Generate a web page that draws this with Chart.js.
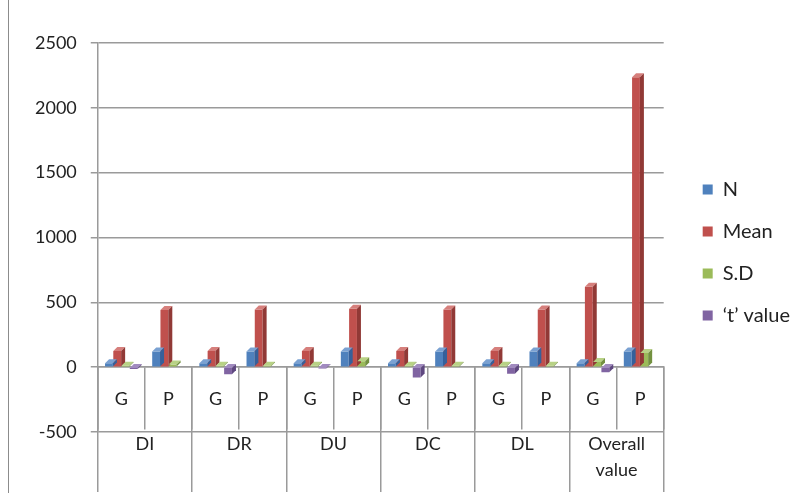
<!DOCTYPE html>
<html>
<head>
<meta charset="utf-8">
<script src="https://cdn.jsdelivr.net/npm/chart.js@4.4.0/dist/chart.umd.min.js"></script>
<style>
  html, body { margin: 0; padding: 0; background: #fff; }
  #marco { position: absolute; left: 8px; top: 0; width: 802px; height: 493px; border-left: 1.5px solid #8c8c8c; }
  #contenedor { position: absolute; left: 0; top: 0; width: 810px; height: 493px; }
</style>
</head>
<body>
<div id="marco"></div>
<div id="contenedor"><canvas id="barChartDimensiones" width="810" height="493"></canvas></div>
<script>
// categorias del eje x (dos niveles)
var grupos = ["G", "P", "G", "P", "G", "P", "G", "P", "G", "P", "G", "P"];
var dimensiones = ["DI", "DR", "DU", "DC", "DL", ["Overall", "value"]];

// series
var valoresN = [30, 120, 30, 120, 30, 120, 30, 120, 30, 120, 30, 120];
var valoresMean = [125, 440, 125, 445, 125, 450, 125, 445, 125, 445, 620, 2235];
var valoresSD = [10, 20, 10, 10, 10, 45, 10, 10, 10, 10, 40, 110];
var valoresT = [-15, 0, -55, 0, -10, 0, -80, 0, -50, 0, -40, 0];

var ticksY = [-500, 0, 500, 1000, 1500, 2000, 2500];

var colores = {
  N: ["#4F81BD", "#7AA1D2", "#36609A"],
  Mean: ["#C0504D", "#D67F7C", "#913936"],
  SD: ["#9BBB59", "#B8D285", "#739140"],
  T: ["#8064A2", "#A18BBF", "#5F4880"]
};

// dibuja la cara superior y lateral de cada barra para el efecto 3D
var barras3d = {
  id: "barras3d",
  afterDatasetsDraw: function (chart) {
    var ctx = chart.ctx;
    var prof = 4;
    chart.data.datasets.forEach(function (ds, i) {
      var meta = chart.getDatasetMeta(i);
      meta.data.forEach(function (bar, j) {
        if (ds.data[j] === 0) return; // sin barra, sin caras
        var p = bar.getProps(["x", "y", "base", "width"], true);
        var izq = p.x - p.width / 2;
        var der = p.x + p.width / 2;
        var arriba = Math.min(p.y, p.base);
        var abajo = Math.max(p.y, p.base);
        ctx.save();
        ctx.fillStyle = ds.caraSuperior;
        ctx.beginPath();
        ctx.moveTo(izq, arriba);
        ctx.lineTo(izq + prof, arriba - prof);
        ctx.lineTo(der + prof, arriba - prof);
        ctx.lineTo(der, arriba);
        ctx.closePath();
        ctx.fill();
        ctx.fillStyle = ds.caraLateral;
        ctx.beginPath();
        ctx.moveTo(der, arriba);
        ctx.lineTo(der + prof, arriba - prof);
        ctx.lineTo(der + prof, abajo - prof);
        ctx.lineTo(der, abajo);
        ctx.closePath();
        ctx.fill();
        ctx.restore();
      });
    });
  }
};

function serie(nombre, datos, color) {
  return {
    label: nombre,
    data: datos,
    backgroundColor: color[0],
    caraSuperior: color[1],
    caraLateral: color[2],
    xAxisID: "x",
    yAxisID: "y",
    categoryPercentage: 0.7,
    barPercentage: 0.95
  };
}

function GraficoDimensiones() {
  var canvas = document.getElementById("barChartDimensiones");
  var ctx = canvas.getContext("2d");
  var fuente = "Lato, 'Open Sans', sans-serif";
  var gris = "#9a9a9a";

  var config = {
    type: "bar",
    data: {
      labels: grupos,
      datasets: [
        serie("N", valoresN, colores.N),
        serie("Mean", valoresMean, colores.Mean),
        serie("S.D", valoresSD, colores.SD),
        serie("\u2018t\u2019 value", valoresT, colores.T)
      ]
    },
    options: {
      responsive: false,
      animation: false,
      layout: { padding: { left: 21, top: 43, bottom: 61, right: 10 } },
      scales: {
        y: {
          min: -500,
          max: 2500,
          afterBuildTicks: function (scale) {
            scale.ticks = ticksY.map(function (v) { return { value: v }; });
          },
          grid: { color: gris, lineWidth: 1.5, tickLength: 7 },
          border: { color: gris, width: 1.5 },
          ticks: {
            color: "#222",
            padding: 14,
            font: { family: fuente, size: 18 },
            callback: function (valor) { return String(valor); }
          }
        },
        x: {
          type: "category",
          position: { y: 0 },
          offset: true,
          grid: { offset: true, drawOnChartArea: false, color: gris, lineWidth: 1.5, tickLength: 62 },
          border: { color: gris, width: 1.5 },
          ticks: { color: "#222", padding: -41, maxRotation: 0, autoSkip: false, font: { family: fuente, size: 18 } }
        },
        x2: {
          type: "category",
          labels: dimensiones,
          position: { y: 0 },
          offset: true,
          grid: { offset: true, drawOnChartArea: false, color: gris, lineWidth: 1.5, tickLength: 125 },
          border: { display: false },
          ticks: { color: "#222", padding: -61, maxRotation: 0, autoSkip: false, font: { family: fuente, size: 18, lineHeight: 1.45 } }
        },
        // espacio entre el area del grafico y la leyenda
        hueco: {
          type: "linear",
          position: "right",
          display: true,
          grid: { display: false },
          border: { display: false },
          ticks: { display: false },
          afterFit: function (scale) { scale.width = 17; }
        }
      },
      plugins: {
        legend: {
          position: "right",
          title: { display: true, text: " ", padding: { top: 0, bottom: 18 }, font: { size: 10 } },
          labels: {
            color: "#222",
            boxWidth: 10,
            boxHeight: 10,
            padding: 22,
            font: { family: fuente, size: 20 }
          }
        },
        tooltip: { enabled: false }
      }
    },
    plugins: [barras3d]
  };

  var grafico = new Chart(ctx, config);
}

GraficoDimensiones();
</script>
</body>
</html>
